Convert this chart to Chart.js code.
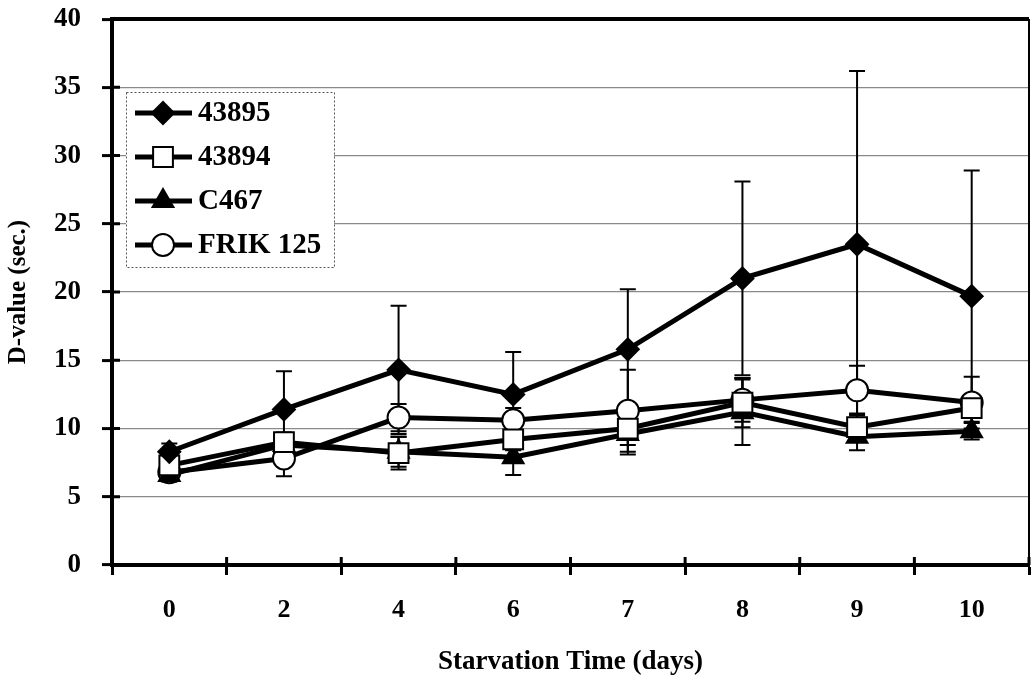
<!DOCTYPE html>
<html>
<head>
<meta charset="utf-8">
<script src="https://cdn.jsdelivr.net/npm/chart.js@4"></script>
<style>
  html, body { margin: 0; padding: 0; background: #fff; }
  #wrap { position: relative; width: 1031px; height: 682px; overflow: hidden; }
  #grafica { display: block; margin-top: -10px; }
</style>
</head>
<body>
<div id="wrap"><canvas id="grafica" width="1031" height="692"></canvas></div>
<script>
// ---- datos ----
const dias = ["0", "2", "4", "6", "7", "8", "9", "10"];
const yTicks = [0, 5, 10, 15, 20, 25, 30, 35, 40];

const cepa43895 = [8.3, 11.4, 14.3, 12.5, 15.8, 21.0, 23.5, 19.7];
const err43895  = [0.6, 2.8, 4.7, 3.1, 4.4, 7.1, 12.7, 9.2];

const cepa43894 = [7.3, 9.0, 8.2, 9.2, 10.0, 11.9, 10.1, 11.5];
const err43894  = [0.8, 0.7, 1.2, 0.8, 1.2, 1.8, 1.0, 0.6];

const cepaC467  = [6.6, 8.8, 8.3, 7.9, 9.6, 11.2, 9.4, 9.8];
const errC467   = [0.5, 0.6, 1.1, 1.3, 1.5, 2.4, 1.0, 0.6];

const frik125   = [6.8, 7.8, 10.8, 10.6, 11.3, 12.1, 12.8, 11.9];
const errFrik   = [0.6, 1.3, 1.0, 0.9, 3.0, 1.6, 1.8, 1.9];

const FUENTE = "'Liberation Serif', 'Times New Roman', serif";

// barras de error (dibujadas con las escalas del grafico)
const erroresPlugin = {
  id: "errores",
  beforeDatasetsDraw(chart) {
    const ctx = chart.ctx;
    const xs = chart.scales.x, ys = chart.scales.y;
    const errs = [err43895, err43894, errC467, errFrik];
    ctx.save();
    ctx.strokeStyle = "#000";
    ctx.lineWidth = 2;
    chart.data.datasets.forEach((ds, i) => {
      ds.data.forEach((v, j) => {
        const e = errs[i][j];
        const x = xs.getPixelForValue(j);
        const y1 = ys.getPixelForValue(v + e);
        const y2 = ys.getPixelForValue(v - e);
        ctx.beginPath();
        ctx.moveTo(x, y1); ctx.lineTo(x, y2);
        ctx.moveTo(x - 8, y1); ctx.lineTo(x + 8, y1);
        ctx.moveTo(x - 8, y2); ctx.lineTo(x + 8, y2);
        ctx.stroke();
      });
    });
    ctx.restore();
  }
};

// marco, marcas interiores y leyenda
const marcoPlugin = {
  id: "marco",
  afterDraw(chart) {
    const ctx = chart.ctx;
    const a = chart.chartArea;
    const xs = chart.scales.x, ys = chart.scales.y;
    ctx.save();
    ctx.strokeStyle = "#000";
    // borde superior y derecho
    ctx.lineWidth = 4;
    ctx.beginPath();
    ctx.moveTo(a.left, a.top); ctx.lineTo(a.right, a.top);
    ctx.stroke();
    ctx.lineWidth = 2;
    ctx.beginPath();
    ctx.moveTo(a.right, a.top); ctx.lineTo(a.right, a.bottom);
    ctx.stroke();
    // marcas hacia dentro
    ctx.lineWidth = 3;
    ctx.beginPath();
    yTicks.forEach(t => {
      const y = ys.getPixelForValue(t);
      ctx.moveTo(a.left, y); ctx.lineTo(a.left + 8, y);
    });
    for (let k = 0; k <= dias.length; k++) {
      const x = xs.getPixelForValue(k - 0.5);
      ctx.moveTo(x, a.bottom); ctx.lineTo(x, a.bottom - 8);
    }
    ctx.stroke();

    // leyenda (coordenadas del lienzo, que esta desplazado 10px hacia arriba)
    const lx = 126, ly = 102, lw = 208, lh = 175;
    ctx.fillStyle = "#fff";
    ctx.fillRect(lx, ly, lw, lh);
    ctx.lineWidth = 1;
    ctx.setLineDash([2, 2]);
    ctx.strokeStyle = "#555";
    ctx.strokeRect(lx + 0.5, ly + 0.5, lw, lh);
    ctx.setLineDash([]);
    chart.data.datasets.forEach((ds, i) => {
      const cy = ly + 21 + i * 44;
      ctx.strokeStyle = "#000";
      ctx.lineWidth = 5;
      ctx.beginPath();
      ctx.moveTo(lx + 9, cy); ctx.lineTo(lx + 66, cy);
      ctx.stroke();
      ctx.fillStyle = ds.pointBackgroundColor;
      ctx.strokeStyle = "#000";
      ctx.lineWidth = 2;
      Chart.helpers.drawPoint(ctx, {
        pointStyle: ds.pointStyle, radius: ds.pointRadius, borderWidth: 2
      }, lx + 37, cy);
      ctx.fillStyle = "#000";
      ctx.font = "bold 29px " + FUENTE;
      ctx.textBaseline = "middle";
      ctx.fillText(ds.label, lx + 72, cy + 1);
    });
    ctx.restore();
  }
};

const serie = (label, data, estilo, relleno, radio) => ({
  label, data,
  borderColor: "#000",
  borderWidth: 5,
  pointStyle: estilo,
  pointRadius: radio,
  pointBackgroundColor: relleno,
  pointBorderColor: "#000",
  pointBorderWidth: 2,
  tension: 0
});

new Chart(document.getElementById("grafica"), {
  type: "line",
  data: {
    labels: dias,
    datasets: [
      serie("43895", cepa43895, "rectRot", "#000", 11),
      serie("43894", cepa43894, "rect", "#fff", 14),
      serie("C467", cepaC467, "triangle", "#000", 12),
      serie("FRIK 125", frik125, "circle", "#fff", 11)
    ]
  },
  options: {
    responsive: false,
    animation: false,
    layout: { autoPadding: false, padding: { left: 0, right: 2, top: 0, bottom: 0 } },
    plugins: { legend: { display: false }, tooltip: { enabled: false } },
    scales: {
      x: {
        offset: true,
        grid: {
          offset: true,
          drawOnChartArea: false,
          tickLength: 10,
          tickColor: "#000",
          tickWidth: 3
        },
        border: { color: "#000", width: 4 },
        ticks: { color: "#000", padding: 20, font: { family: FUENTE, weight: "bold", size: 26 } },
        title: {
          display: true, text: "Starvation Time (days)", color: "#000",
          font: { family: FUENTE, weight: "bold", size: 27 }, padding: { top: 14 }
        },
        afterFit(s) { s.height = 117; }
      },
      y: {
        min: 0, max: 40,
        afterBuildTicks(s) { s.ticks = yTicks.map(v => ({ value: v })); },
        grid: {
          color: "#8a8a8a",
          lineWidth: 1.2,
          tickLength: 10,
          tickColor: "#000",
          tickWidth: 3
        },
        border: { color: "#000", width: 4 },
        ticks: { color: "#000", padding: 21, font: { family: FUENTE, weight: "bold", size: 27, lineHeight: 0.6 } },
        title: {
          display: true, text: "D-value (sec.)", color: "#000",
          font: { family: FUENTE, weight: "bold", size: 25 }, padding: { bottom: 2 }
        },
        afterFit(s) { s.width = 112; }
      }
    }
  },
  plugins: [erroresPlugin, marcoPlugin]
});
</script>
</body>
</html>
